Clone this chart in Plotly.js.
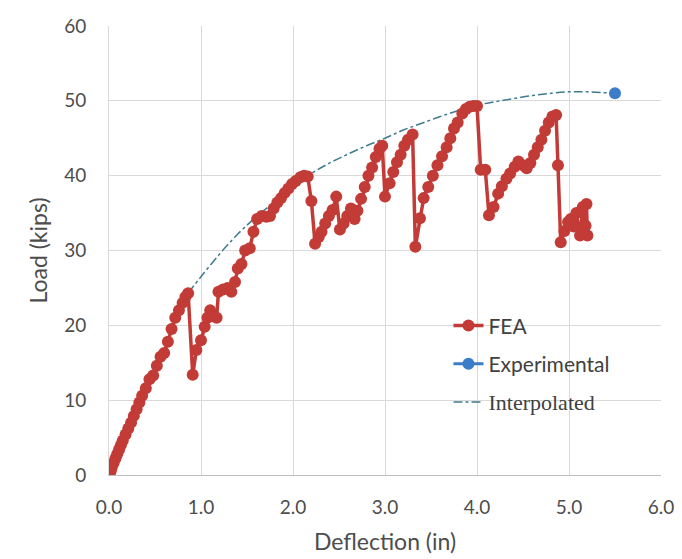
<!DOCTYPE html>
<html>
<head>
<meta charset="utf-8">
<script src="https://cdn.plot.ly/plotly-3.0.1.min.js"></script>
<style>html,body{margin:0;padding:0;background:#fff;}#chart{width:682px;height:559px;}</style>
</head>
<body>
<div id="chart"></div>
<script>
// FEA load-deflection points
var feaDeflection = [0, 0.01, 0.02, 0.03, 0.05, 0.07, 0.09, 0.11, 0.13, 0.15, 0.18, 0.21, 0.24, 0.27, 0.30, 0.33, 0.36, 0.40, 0.44, 0.48, 0.52, 0.56, 0.60, 0.64, 0.68, 0.72, 0.76, 0.80, 0.83, 0.86,
  0.91, 0.95, 1.00, 1.04, 1.07, 1.10, 1.14, 1.17, 1.19, 1.24, 1.29, 1.33, 1.37, 1.40, 1.44, 1.48, 1.53, 1.57, 1.61, 1.66, 1.71, 1.75, 1.79, 1.83, 1.87, 1.91, 1.95, 1.99, 2.03, 2.08, 2.12, 2.16,
  2.20, 2.24, 2.28, 2.31, 2.35, 2.39, 2.43, 2.47, 2.51, 2.55, 2.59, 2.63, 2.67, 2.70, 2.74, 2.78, 2.82, 2.86, 2.90, 2.94, 2.97,
  3.00, 3.05, 3.09, 3.13, 3.17, 3.21, 3.25, 3.30,
  3.33, 3.38, 3.42, 3.47, 3.52, 3.57, 3.62, 3.67, 3.71, 3.75, 3.79, 3.84, 3.88, 3.92, 3.96, 4.00,
  4.04, 4.09, 4.13, 4.18, 4.23, 4.27, 4.32, 4.36, 4.41, 4.45, 4.50, 4.54, 4.58, 4.62, 4.66, 4.70, 4.74, 4.78, 4.82, 4.86,
  4.88, 4.91, 4.95, 4.99, 5.02, 5.05, 5.08, 5.12, 5.15, 5.18, 5.19, 5.20];
var feaLoad = [0, 0.3, 0.6, 1.0, 1.6, 2.2, 2.8, 3.4, 4.0, 4.6, 5.4, 6.2, 7.0, 7.9, 8.8, 9.7, 10.6, 11.6, 12.8, 13.3, 14.6, 15.8, 16.3, 17.8, 19.5, 21.0, 22.0, 23.0, 23.8, 24.3,
  13.4, 16.7, 18.0, 19.8, 21.0, 22.0, 21.2, 21.0, 24.5, 24.8, 25.0, 24.5, 25.8, 27.6, 28.2, 30.0, 30.3, 32.5, 34.2, 34.6, 34.5, 34.6, 35.6, 36.4, 37.0, 37.7, 38.3, 38.9, 39.3, 39.8, 40.0, 39.9,
  36.6, 30.9, 31.8, 32.5, 33.6, 34.6, 35.4, 37.2, 32.8, 33.6, 34.6, 35.6, 34.2, 35.3, 36.9, 38.5, 40.0, 41.1, 42.5, 43.6, 44.0,
  37.2, 39.0, 40.5, 41.8, 42.8, 44.0, 44.8, 45.5,
  30.5, 34.3, 37.0, 38.5, 40.0, 41.4, 42.6, 43.8, 45.0, 46.3, 47.1, 48.3, 48.9, 49.2, 49.3, 49.3,
  40.8, 40.8, 34.7, 35.8, 37.6, 38.6, 39.6, 40.3, 41.2, 41.9, 41.4, 41.0, 41.7, 42.8, 43.8, 44.8, 46.0, 47.1, 47.9, 48.1,
  41.4, 31.1, 32.6, 33.8, 34.2, 33.2, 35.0, 32.0, 35.8, 33.3, 36.2, 32.0];

// Experimental ultimate point
var expDeflection = [5.5];
var expLoad = [51.0];

// Interpolated envelope (dash-dot curve)
var interpDeflection = [0.86, 1.0, 1.2, 1.4, 1.6, 1.8, 2.0, 2.2, 2.4, 2.6, 2.8, 3.0, 3.2, 3.4, 3.6, 3.8, 4.0, 4.2, 4.4, 4.6, 4.8, 5.0, 5.2, 5.5];
var interpLoad = [24.3, 26.5, 29.5, 32.2, 34.5, 36.5, 38.5, 40.3, 41.7, 42.9, 44.0, 45.0, 46.1, 47.0, 47.9, 48.7, 49.4, 49.9, 50.3, 50.7, 51.0, 51.2, 51.2, 51.0];

var xTicks = [0, 1, 2, 3, 4, 5, 6];
var xTickLabels = ['0.0', '1.0', '2.0', '3.0', '4.0', '5.0', '6.0'];
var yTicks = [0, 10, 20, 30, 40, 50, 60];

var red = '#c23b36';
var blue = '#3b7dc8';
var font = 'Lato, "Open Sans", sans-serif';

var traces = [
  {x: interpDeflection, y: interpLoad, name: '<span style="font-family:\'Liberation Serif\', serif;font-size:22px">Interpolated</span>', legendgroup: 'c', legendrank: 3,
   mode: 'lines', type: 'scatter', line: {color: '#3f7b8e', width: 1.5, dash: 'dashdot', shape: 'spline'}},
  {x: feaDeflection, y: feaLoad, name: 'FEA', legendgroup: 'a', legendrank: 1, mode: 'lines+markers', type: 'scatter',
   line: {color: red, width: 3.5}, marker: {color: red, size: 12}},
  {x: expDeflection, y: expLoad, name: 'Experimental', legendgroup: 'b', legendrank: 2, mode: 'lines+markers', type: 'scatter',
   line: {color: blue, width: 3}, marker: {color: blue, size: 12}}
];

var layout = {
  width: 682, height: 559,
  margin: {l: 109, r: 21, t: 26, b: 84},
  paper_bgcolor: '#ffffff', plot_bgcolor: '#ffffff',
  font: {family: font, color: '#4d4d4d', size: 19},
  showlegend: true,
  legend: {x: 0.615, y: 0.378, xanchor: 'left', yanchor: 'top', bgcolor: 'rgba(255,255,255,0)',
    font: {size: 21, color: '#404040'}, tracegroupgap: 8, traceorder: 'grouped'},
  xaxis: {range: [0, 6], tickvals: xTicks, ticktext: xTickLabels, showgrid: true, gridcolor: '#d9d9d9', gridwidth: 1,
    zeroline: false, showline: true, linecolor: '#bfbfbf', ticks: '', ticklabelstandoff: 15,
    tickfont: {size: 19},
    title: {text: 'Deflection (in)', font: {size: 23, color: '#4d4d4d'}, standoff: 17}},
  yaxis: {range: [0, 60], tickvals: yTicks, showgrid: true, gridcolor: '#d9d9d9', gridwidth: 1,
    zeroline: false, showline: true, linecolor: '#d9d9d9', ticks: '', ticklabelstandoff: 18,
    tickfont: {size: 19},
    title: {text: 'Load (kips)', font: {size: 23, color: '#4d4d4d'}, standoff: 10}}
};

Plotly.newPlot('chart', traces, layout, {displayModeBar: false, staticPlot: true});
</script>
</body>
</html>
